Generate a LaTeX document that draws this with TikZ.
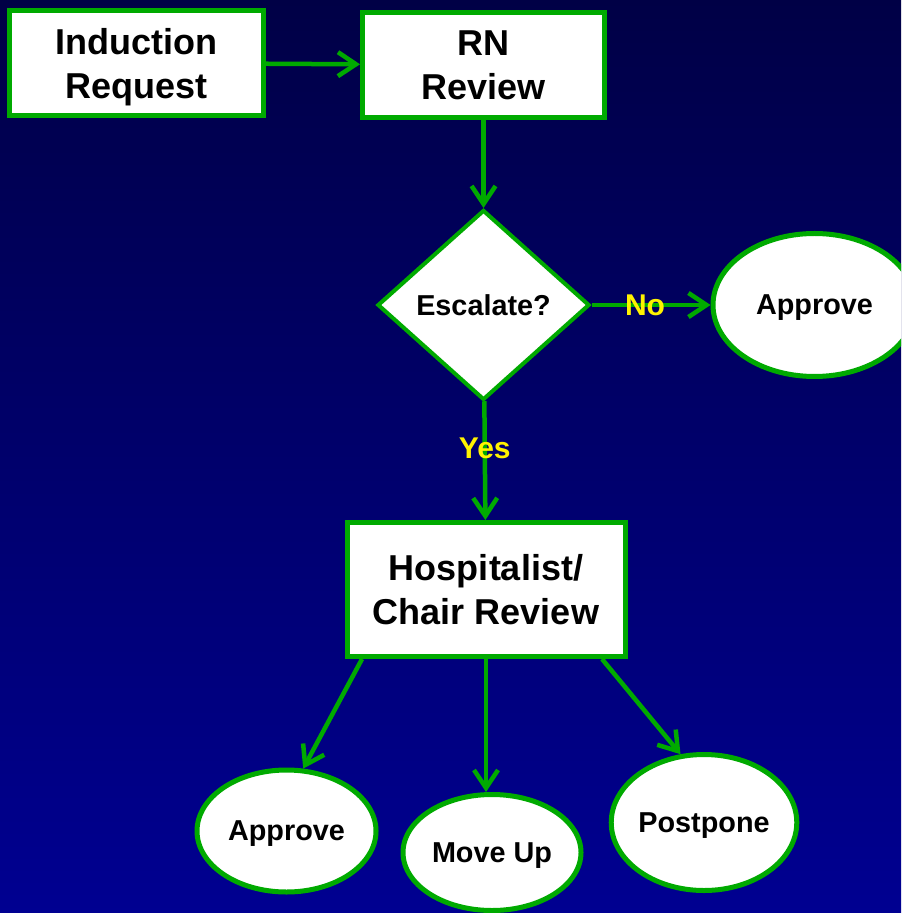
\documentclass[tikz,border=0pt]{standalone}
\usepackage{fontspec}
\setmainfont{Liberation Sans}
\usepackage{tikz}
\usetikzlibrary{shapes.geometric, arrows.meta, positioning}
\definecolor{flowgreen}{RGB}{0,170,0}
\definecolor{navytop}{RGB}{0,0,70}
\definecolor{navybot}{RGB}{0,0,145}

\begin{document}
\begin{tikzpicture}[>={Straight Barb[length=9pt,width=12pt]}, node distance=44pt, font=\bfseries,
    reviewbox/.style={draw=flowgreen, line width=2.5pt, fill=white, rectangle, align=center, text depth=0pt, font=\fontsize{18}{22}\selectfont\bfseries},
    decision/.style={draw=flowgreen, line width=2pt, fill=white, diamond, minimum width=106pt, minimum height=95pt, inner sep=1pt, text depth=0pt, font=\fontsize{14.4}{17}\selectfont\bfseries},
    outcome/.style={draw=flowgreen, line width=2.5pt, fill=white, ellipse, inner sep=0pt, text depth=0pt, font=\fontsize{14.4}{17}\selectfont\bfseries},
    flow/.style={->, draw=flowgreen, line width=2.25pt},
    answer/.style={text=yellow, font=\fontsize{15}{18}\selectfont\bfseries}]

\useasboundingbox (0,0) rectangle (450.5pt,-456.5pt);
\clip (0,0) rectangle (450.5pt,-456.5pt);
\shade[top color=navytop, bottom color=navybot] (0,0) rectangle (450.5pt,-456.5pt);

\node[reviewbox, minimum width=127pt, minimum height=52.5pt] (induct) at (68.25pt,-31.5pt) {Induction\\Request};
\node[reviewbox, minimum width=121pt, minimum height=52.5pt, right=47pt of induct, yshift=-1pt] (rnrev) {RN\\Review};
\node[decision, below=of rnrev] (esc) {Escalate?};
\node[outcome, minimum width=101.5pt, minimum height=71.5pt, right=59.5pt of esc] (approvea) {Approve};
\node[reviewbox, minimum width=139pt, minimum height=67pt, below=59pt of esc, xshift=1.25pt] (hosp) {Hospitalist/\\Chair Review};
\node[outcome, minimum width=89.5pt, minimum height=61pt, below=54.25pt of hosp, xshift=-99.75pt] (approveb) {Approve};
\node[outcome, minimum width=89pt, minimum height=58pt, below=66.5pt of hosp, xshift=3pt] (moveup) {Move Up};
\node[outcome, minimum width=91pt, minimum height=68pt, below=46.5pt of hosp, xshift=109pt] (postp) {Postpone};

\draw[flow] (induct) -- (rnrev);
\draw[flow] (rnrev) -- (esc);
\draw[flow] (esc) -- node[answer, pos=0.45] {No} (approvea);
\draw[flow] (esc) -- node[answer, pos=0.4] {Yes} (hosp);
\draw[flow] ([xshift=-62pt]hosp.south) -- (approveb.75);
\draw[flow] (hosp.south) -- (hosp.south |- moveup.north);
\draw[flow] ([xshift=58pt]hosp.south) -- (postp.109);
\end{tikzpicture}
\end{document}
